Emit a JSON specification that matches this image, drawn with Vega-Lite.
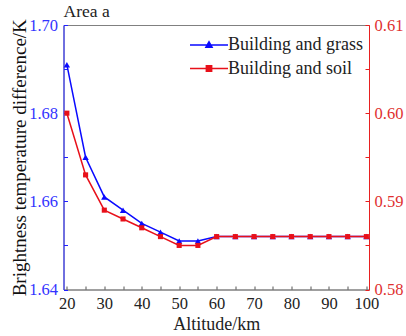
{
  "$schema": "https://vega.github.io/schema/vega-lite/v6.json",
  "width": 305.5,
  "height": 264.5,
  "autosize": "none",
  "padding": {"left": 63.5, "top": 25, "right": 37, "bottom": 46.5},
  "title": {"text": "Area a", "anchor": "start", "frame": "group", "font": "Liberation Serif", "fontSize": 17.5, "fontWeight": "normal", "color": "#222222", "baseline": "alphabetic", "offset": -17.5},
  "config": {
    "view": {"stroke": "#808080", "strokeWidth": 1},
    "font": "Liberation Serif",
    "axis": {"grid": false, "labelFont": "Liberation Serif", "titleFont": "Liberation Serif", "titleFontWeight": "normal", "labelFontSize": 16.5, "titleFontSize": 18, "labelOverlap": false, "labelFlush": false}
  },
  "data": {
    "values": [
      {"altitude": 20, "series": "Building and grass", "value": 1.691},
      {"altitude": 25, "series": "Building and grass", "value": 1.670},
      {"altitude": 30, "series": "Building and grass", "value": 1.661},
      {"altitude": 35, "series": "Building and grass", "value": 1.658},
      {"altitude": 40, "series": "Building and grass", "value": 1.655},
      {"altitude": 45, "series": "Building and grass", "value": 1.653},
      {"altitude": 50, "series": "Building and grass", "value": 1.651},
      {"altitude": 55, "series": "Building and grass", "value": 1.651},
      {"altitude": 60, "series": "Building and grass", "value": 1.652},
      {"altitude": 65, "series": "Building and grass", "value": 1.652},
      {"altitude": 70, "series": "Building and grass", "value": 1.652},
      {"altitude": 75, "series": "Building and grass", "value": 1.652},
      {"altitude": 80, "series": "Building and grass", "value": 1.652},
      {"altitude": 85, "series": "Building and grass", "value": 1.652},
      {"altitude": 90, "series": "Building and grass", "value": 1.652},
      {"altitude": 95, "series": "Building and grass", "value": 1.652},
      {"altitude": 100, "series": "Building and grass", "value": 1.652},
      {"altitude": 20, "series": "Building and soil", "value": 0.600},
      {"altitude": 25, "series": "Building and soil", "value": 0.593},
      {"altitude": 30, "series": "Building and soil", "value": 0.589},
      {"altitude": 35, "series": "Building and soil", "value": 0.588},
      {"altitude": 40, "series": "Building and soil", "value": 0.587},
      {"altitude": 45, "series": "Building and soil", "value": 0.586},
      {"altitude": 50, "series": "Building and soil", "value": 0.585},
      {"altitude": 55, "series": "Building and soil", "value": 0.585},
      {"altitude": 60, "series": "Building and soil", "value": 0.586},
      {"altitude": 65, "series": "Building and soil", "value": 0.586},
      {"altitude": 70, "series": "Building and soil", "value": 0.586},
      {"altitude": 75, "series": "Building and soil", "value": 0.586},
      {"altitude": 80, "series": "Building and soil", "value": 0.586},
      {"altitude": 85, "series": "Building and soil", "value": 0.586},
      {"altitude": 90, "series": "Building and soil", "value": 0.586},
      {"altitude": 95, "series": "Building and soil", "value": 0.586},
      {"altitude": 100, "series": "Building and soil", "value": 0.586}
    ]
  },
  "encoding": {
    "x": {
      "field": "altitude", "type": "quantitative",
      "scale": {"domain": [19.1, 100.7], "nice": false, "zero": false},
      "axis": {
        "values": [20, 25, 30, 35, 40, 45, 50, 55, 60, 65, 70, 75, 80, 85, 90, 95, 100],
        "labelExpr": "datum.value % 10 == 0 ? datum.label : ''",
        "tickSize": -3.5, "tickColor": "#555555", "domainColor": "#808080",
        "labelColor": "#222222", "labelPadding": 9.5,
        "title": "Altitude/km", "titleColor": "#222222", "titleFontSize": 18, "titlePadding": 3
      }
    },
    "color": {
      "field": "series", "type": "nominal",
      "scale": {"domain": ["Building and grass", "Building and soil"], "range": ["#0a0aff", "#e8101a"]},
      "legend": {
        "orient": "none", "legendX": 134.5, "legendY": 9, "title": null,
        "symbolSize": 400, "symbolStrokeWidth": 1.6, "padding": 0,
        "labelFont": "Liberation Serif", "labelFontSize": 18, "labelColor": "#222222",
        "labelOffset": 8, "rowPadding": 3.5,
        "encode": {
          "symbols": {
            "update": {
              "shape": {"signal": "datum.value === 'Building and grass' ? 'M-1.9,0H1.9M0,-0.32L0.3,0.22L-0.3,0.22Z' : 'M-1.9,0H1.9M-0.26,-0.26H0.26V0.26H-0.26Z'"},
              "fill": {"signal": "datum.value === 'Building and grass' ? '#0a0aff' : '#e8101a'"},
              "stroke": {"signal": "datum.value === 'Building and grass' ? '#0a0aff' : '#e8101a'"},
              "fillOpacity": {"value": 1},
              "strokeWidth": {"value": 1.6}
            }
          }
        }
      }
    }
  },
  "layer": [
    {
      "transform": [{"filter": "datum.series === 'Building and grass'"}],
      "encoding": {
        "y": {
          "field": "value", "type": "quantitative",
          "scale": {"domain": [1.64, 1.70], "nice": false, "zero": false},
          "axis": {
            "orient": "left",
            "values": [1.64, 1.65, 1.66, 1.67, 1.68, 1.69, 1.70],
            "labelExpr": "round(datum.value*100) % 2 == 0 ? format(datum.value, '.2f') : ''",
            "tickSize": -4, "tickColor": "#2020ff", "domainColor": "#2020ff",
            "labelColor": "#3333ff", "labelPadding": 10,
            "title": "Brightness temperature difference/K", "titleColor": "#111111", "titleFontSize": 19, "titlePadding": -1
          }
        }
      },
      "layer": [
        {"mark": {"type": "line", "strokeWidth": 1.5}},
        {"mark": {"type": "point", "shape": "triangle-up", "filled": true, "size": 40, "opacity": 1}}
      ]
    },
    {
      "transform": [{"filter": "datum.series === 'Building and soil'"}],
      "encoding": {
        "y": {
          "field": "value", "type": "quantitative",
          "scale": {"domain": [0.58, 0.61], "nice": false, "zero": false},
          "axis": {
            "orient": "right",
            "values": [0.58, 0.585, 0.59, 0.595, 0.60, 0.605, 0.61],
            "labelExpr": "round(datum.value*1000) % 10 == 0 ? format(datum.value, '.2f') : ''",
            "tickSize": -4, "tickColor": "#e82020", "domainColor": "#e82020",
            "labelColor": "#e03030", "labelPadding": 9,
            "title": null
          }
        }
      },
      "layer": [
        {"mark": {"type": "line", "strokeWidth": 1.5}},
        {"mark": {"type": "point", "shape": "square", "filled": true, "size": 26, "opacity": 1}}
      ]
    }
  ],
  "resolve": {"scale": {"y": "independent"}}
}
